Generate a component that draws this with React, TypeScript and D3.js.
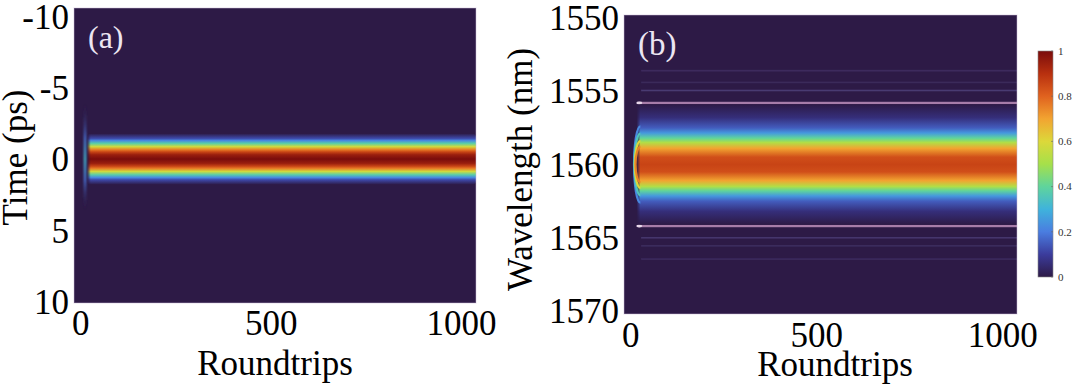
import React from 'react';
import * as d3 from 'd3';

// axis ticks
const roundtripTicks = [0, 500, 1000];
const timeTicks = [-10, -5, 0, 5, 10];
const wavelengthTicks = [1550, 1555, 1560, 1565, 1570];
const colorbarTicks = [0, 0.2, 0.4, 0.6, 0.8, 1];

// colormap
const cmapStops = [0, 0.1, 0.2, 0.3, 0.4, 0.5, 0.6, 0.7, 0.8, 0.9, 1];
const cmapColors = ['#2d1a46', '#3b3c9c', '#4a7de0', '#3fb3dc', '#5fd49c', '#a6e04a', '#dcd83a', '#f2a431', '#e0621f', '#b8300f', '#7a0c0c'];

// (a) steady pulse profile: time (ps) vs normalized intensity
const pulseTime = [-1.8, -1.45, -1.3, -1.1, -0.87, -0.66, -0.5, -0.3, 0, 0.3, 0.5, 0.66, 0.87, 1.1, 1.3, 1.45, 1.8];
const pulseLevel = [0, 0.12, 0.22, 0.38, 0.58, 0.76, 0.86, 0.95, 1, 0.95, 0.86, 0.76, 0.58, 0.38, 0.22, 0.12, 0];
// (a) build-up streak in the first roundtrips
const streakTime = [-3.9, -1.5, 0, 1.5, 3.6];
const streakLevel = [0, 0.18, 0.32, 0.18, 0];

// (b) steady spectrum profile: wavelength (nm) vs normalized intensity
const specWl = [1555.9, 1556.8, 1557.5, 1557.85, 1558.2, 1558.5, 1558.9, 1559.5, 1560, 1560.5, 1561.1, 1561.5, 1561.8, 1562.15, 1562.5, 1563.2, 1564.1];
const specLevel = [0, 0.06, 0.15, 0.25, 0.4, 0.52, 0.7, 0.84, 0.86, 0.84, 0.7, 0.52, 0.4, 0.25, 0.15, 0.06, 0];
// (b) Kelly sidebands
const kellyWl = [1553.6, 1554.4, 1554.95, 1555.8, 1564.2, 1565.0, 1565.55, 1566.45];
const kellyLevel = [0.16, 0.14, 0.3, 0.8, 0.8, 0.26, 0.16, 0.16];
// (b) build-up rim at the start: half-span (nm), start roundtrip, level
const rimSpan = [2.6, 2.1, 1.6, 1.2];
const rimStart = [9, 10, 11, 13];
const rimLevel = [0.22, 0.35, 0.6, 0.75];

const xDomain = [-18, 1038];
const pulseStart = 18;
const specStart = 20;

const font = '"Liberation Serif", "Times New Roman", serif';

const color = d3.scaleLinear<string>().domain(cmapStops).range(cmapColors).interpolate(d3.interpolateRgb);
const kellyColor = d3.interpolateRgb(cmapColors[0], '#c596c2');
const faintColor = d3.interpolateRgb(cmapColors[0], '#8a84d8');

const A = { left: 74, right: 476, top: 8, bottom: 303 };
const B = { left: 624, right: 1017, top: 15, bottom: 314 };
const CB = { left: 1038, right: 1053, top: 51, bottom: 277 };

const xa = d3.scaleLinear().domain(xDomain).range([A.left, A.right]);
const ya = d3.scaleLinear().domain([-10.6, 10.1]).range([A.top, A.bottom]);
const xb = d3.scaleLinear().domain(xDomain).range([B.left, B.right]);
const yb = d3.scaleLinear().domain([1549.8, 1570.2]).range([B.top, B.bottom]);
const yc = d3.scaleLinear().domain([0, 1]).range([CB.bottom, CB.top]);

const Gradient = ({ id, pos, levels, y0, y1, alpha }: any) => (
  <linearGradient id={id} gradientUnits="userSpaceOnUse" x1={0} x2={0} y1={y0} y2={y1}>
    {pos.map((p: number, i: number) => (
      <stop key={i} offset={(p - y0) / (y1 - y0)} stopColor={color(levels[i])} stopOpacity={alpha ? (levels[i] > 0 ? 1 : 0) : 1} />
    ))}
  </linearGradient>
);

export default function App() {
  const pY = pulseTime.map(t => ya(t));
  const sY = streakTime.map(t => ya(t));
  const wY = specWl.map(w => yb(w));
  const cY = colorbarTicks.map(v => yc(v));
  const tickFs = 35;

  return (
    <div style={{ position: 'absolute', left: 0, top: 0 }}>
      <svg width={1080} height={384} style={{ display: 'block', background: 'white', fontFamily: font }}>
        <defs>
          <Gradient id="pulse" pos={pY} levels={pulseLevel} y0={pY[0]} y1={pY[pY.length - 1]} />
          <Gradient id="streak" pos={sY} levels={streakLevel} y0={sY[0]} y1={sY[sY.length - 1]} alpha />
          <Gradient id="spec" pos={wY} levels={specLevel} y0={wY[0]} y1={wY[wY.length - 1]} />
          <linearGradient id="fadeA" gradientUnits="userSpaceOnUse" x1={xa(pulseStart - 2)} x2={xa(pulseStart + 8)} y1={0} y2={0}>
            <stop offset={0} stopColor="white" stopOpacity={0} />
            <stop offset={1} stopColor="white" stopOpacity={1} />
          </linearGradient>
          <mask id="maskA">
            <rect x={A.left} y={A.top} width={A.right - A.left} height={A.bottom - A.top} fill="url(#fadeA)" />
          </mask>
          <linearGradient id="fadeB" gradientUnits="userSpaceOnUse" x1={xb(specStart - 4)} x2={xb(specStart + 6)} y1={0} y2={0}>
            <stop offset={0} stopColor="white" stopOpacity={0} />
            <stop offset={1} stopColor="white" stopOpacity={1} />
          </linearGradient>
          <mask id="maskB">
            <rect x={B.left} y={B.top} width={B.right - B.left} height={B.bottom - B.top} fill="url(#fadeB)" />
          </mask>
          <linearGradient id="cbar" x1={0} x2={0} y1={1} y2={0}>
            {cmapStops.map((s, i) => <stop key={i} offset={s} stopColor={cmapColors[i]} />)}
          </linearGradient>
          <filter id="soft" x="-20%" y="-100%" width="140%" height="300%">
            <feGaussianBlur stdDeviation="0.5" />
          </filter>
          <filter id="softer" x="-50%" y="-20%" width="200%" height="140%">
            <feGaussianBlur stdDeviation="1.2" />
          </filter>
        </defs>

        {/* panel (a) */}
        <rect x={A.left} y={A.top} width={A.right - A.left} height={A.bottom - A.top} fill={color(0)} />
        <rect x={xa(8)} y={sY[0]} width={xa(14) - xa(8)} height={sY[sY.length - 1] - sY[0]} fill="url(#streak)" filter="url(#softer)" />
        <g mask="url(#maskA)">
          <rect x={xa(pulseStart - 2)} y={pY[0]} width={A.right - xa(pulseStart - 2)} height={pY[pY.length - 1] - pY[0]} fill="url(#pulse)" rx={4} />
        </g>
        <rect x={A.left} y={A.top} width={A.right - A.left} height={A.bottom - A.top} fill="none" stroke="#cbbcd9" strokeOpacity={0.5} />
        <text x={88} y={48} fontSize={32} fill="#ece6f2">(a)</text>

        {timeTicks.map(t => (
          <text key={t} x={A.left - 5} y={ya(t)} dy="0.35em" textAnchor="end" fontSize={tickFs}>{t}</text>
        ))}
        {roundtripTicks.map(r => (
          <text key={r} x={xa(r)} y={335} textAnchor="middle" fontSize={tickFs}>{r}</text>
        ))}
        <text x={275} y={375} textAnchor="middle" fontSize={35}>Roundtrips</text>
        <text transform={`translate(27,${(A.top + A.bottom) / 2 + 2}) rotate(-90)`} textAnchor="middle" fontSize={35}>Time (ps)</text>

        {/* panel (b) */}
        <rect x={B.left} y={B.top} width={B.right - B.left} height={B.bottom - B.top} fill={color(0)} />
        {kellyWl.map((w, i) => {
          const bright = kellyLevel[i] > 0.5;
          const h = bright ? 2.3 : 1.6;
          const x0 = xb(specStart + (bright ? 0 : 8));
          return (
            <rect key={i} x={x0} width={B.right - x0} y={yb(w) - h / 2} height={h}
              fill={bright ? kellyColor(kellyLevel[i]) : faintColor(kellyLevel[i])} filter="url(#soft)" />
          );
        })}
        {kellyWl.filter((w, i) => kellyLevel[i] > 0.5).map((w, i) => (
          <ellipse key={i} cx={xb(specStart + 3)} cy={yb(w)} rx={3} ry={1.4} fill="#e8d8ea" filter="url(#soft)" />
        ))}
        <g mask="url(#maskB)">
          <rect x={xb(specStart - 4)} y={wY[0]} width={B.right - xb(specStart - 4)} height={wY[wY.length - 1] - wY[0]} fill="url(#spec)" />
        </g>
        {rimSpan.map((h, i) => {
          const cx = xb(specStart + 6);
          const rx = cx - xb(rimStart[i]);
          const ry = yb(1560 + h) - yb(1560);
          return (
            <path key={i} d={`M${cx},${yb(1560 - h)} A${rx},${ry} 0 0 0 ${cx},${yb(1560 + h)}`}
              fill="none" stroke={color(rimLevel[i])} strokeWidth={2.2} filter="url(#soft)" />
          );
        })}
        <rect x={B.left} y={B.top} width={B.right - B.left} height={B.bottom - B.top} fill="none" stroke="#cbbcd9" strokeOpacity={0.5} />
        <text x={638} y={55} fontSize={33} fill="#ece6f2">(b)</text>

        {wavelengthTicks.map(w => (
          <text key={w} x={B.left - 5} y={yb(w)} dy="0.35em" textAnchor="end" fontSize={tickFs}>{w}</text>
        ))}
        {roundtripTicks.map(r => (
          <text key={r} x={xb(r)} y={347} textAnchor="middle" fontSize={tickFs}>{r}</text>
        ))}
        <text x={835} y={376} textAnchor="middle" fontSize={35}>Roundtrips</text>
        <text transform={`translate(532,${(B.top + B.bottom) / 2 + 5}) rotate(-90)`} textAnchor="middle" fontSize={35}>Wavelength (nm)</text>

        {/* colorbar */}
        <rect x={CB.left} y={CB.top} width={CB.right - CB.left} height={CB.bottom - CB.top} fill="url(#cbar)" stroke="#888" strokeWidth={0.6} />
        {colorbarTicks.map((v, i) => (
          <g key={v}>
            <line x1={CB.right - 2} x2={CB.right} y1={cY[i]} y2={cY[i]} stroke="#666" strokeWidth={0.6} />
            <text x={CB.right + 5} y={cY[i]} dy="0.35em" fontSize={11} fill="#333">{v}</text>
          </g>
        ))}
      </svg>
    </div>
  );
}
